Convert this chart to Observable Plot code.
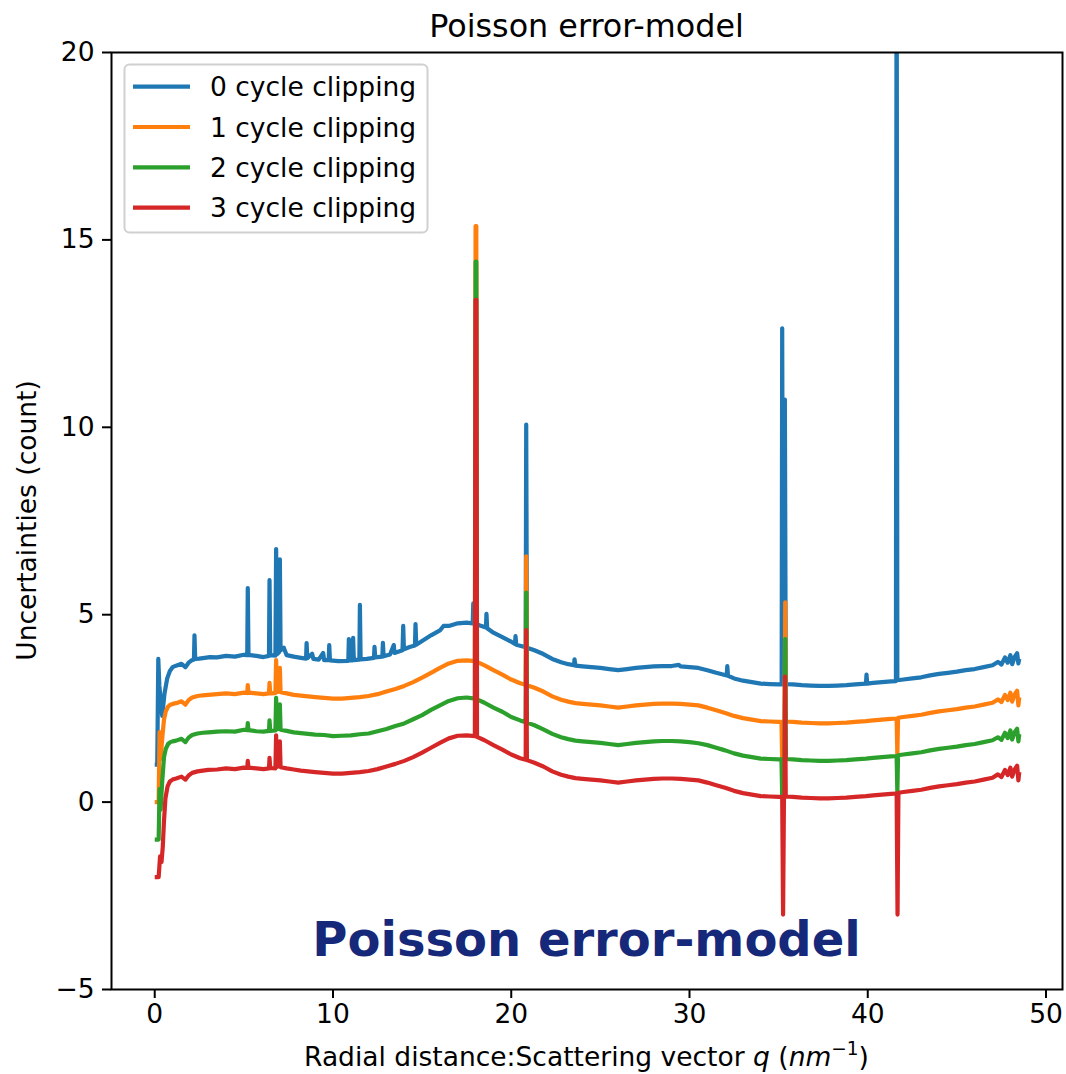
<!DOCTYPE html>
<html>
<head>
<meta charset="utf-8">
<script src="https://cdn.jsdelivr.net/npm/d3@7"></script>
<script src="https://cdn.jsdelivr.net/npm/@observablehq/plot@0.6"></script>
<style>
  html, body { margin: 0; padding: 0; background: #fff; }
  #chart { width: 1066px; height: 1074px; }
</style>
</head>
<body>
<div id="chart"></div>
<script>
const chartTitle = "Poisson error-model";
const watermark = "Poisson error-model";
const yLabel = "Uncertainties (count)";
const seriesNames = ["0 cycle clipping", "1 cycle clipping", "2 cycle clipping", "3 cycle clipping"];
const seriesColors = ["#1f77b4", "#ff7f0e", "#2ca02c", "#d62728"];
const xTicks = [0, 10, 20, 30, 40, 50];
const yTicks = [-5, 0, 5, 10, 15, 20];

// [q, uncertainty]
const clip0 = [[0,1.0],[0.14,1.0],[0.2,3.82],[0.26,3.1],[0.42,2.3],[0.55,2.9],[0.7,3.3],[0.85,3.5],[1.0,3.6],[1.2,3.64],[1.5,3.69],[1.72,3.6],[1.9,3.72],[2.1,3.79],[2.2,3.8],[2.23,4.45],[2.27,3.82],[2.5,3.83],[2.8,3.85],[3.1,3.87],[3.5,3.86],[4.0,3.9],[4.5,3.88],[5.0,3.93],[5.19,3.92],[5.22,5.71],[5.26,3.93],[5.7,3.9],[6.1,3.87],[6.41,3.9],[6.44,5.92],[6.48,3.92],[6.77,3.91],[6.81,6.75],[6.86,3.95],[6.98,4.0],[7.02,6.48],[7.06,4.05],[7.24,4.12],[7.4,3.92],[7.8,3.88],[8.2,3.85],[8.49,3.83],[8.52,4.24],[8.56,3.84],[8.83,3.96],[8.9,3.82],[9.2,3.8],[9.45,3.98],[9.5,3.79],[9.76,3.79],[9.79,4.19],[9.83,3.78],[10.3,3.76],[10.86,3.77],[10.89,4.35],[10.93,3.78],[11.1,3.78],[11.13,4.38],[11.17,3.79],[11.48,3.8],[11.51,5.26],[11.55,3.81],[11.9,3.82],[12.3,3.85],[12.33,4.14],[12.37,3.86],[12.77,3.88],[12.8,4.25],[12.84,3.89],[13.2,3.94],[13.41,4.19],[13.45,3.98],[13.9,4.05],[13.94,4.7],[13.98,4.08],[14.3,4.14],[14.6,4.18],[14.63,4.75],[14.67,4.2],[15.0,4.3],[15.5,4.45],[16.0,4.58],[16.2,4.7],[16.5,4.7],[17.0,4.77],[17.5,4.79],[17.84,4.77],[17.87,5.3],[17.92,4.78],[18.2,4.72],[18.58,4.66],[18.61,5.02],[18.65,4.64],[19.0,4.52],[19.5,4.4],[20.0,4.28],[20.21,4.22],[20.24,4.43],[20.28,4.2],[20.6,4.16],[20.81,4.13],[20.84,10.07],[20.88,4.12],[21.3,4.05],[21.8,3.95],[22.3,3.82],[22.8,3.73],[23.2,3.68],[23.52,3.65],[23.55,3.81],[23.6,3.64],[24.0,3.62],[24.5,3.6],[25.0,3.58],[25.5,3.55],[26.0,3.52],[26.5,3.55],[27.0,3.58],[27.5,3.6],[28.0,3.62],[28.5,3.63],[29.0,3.63],[29.4,3.66],[29.5,3.62],[30.0,3.6],[30.5,3.58],[31.0,3.52],[31.5,3.45],[32.09,3.38],[32.12,3.63],[32.16,3.37],[32.5,3.3],[33.0,3.24],[33.5,3.2],[34.0,3.16],[34.5,3.15],[35.0,3.14],[35.17,3.14],[35.2,12.64],[35.25,3.14],[35.31,3.15],[35.35,10.74],[35.4,3.15],[35.8,3.14],[36.3,3.12],[36.8,3.11],[37.3,3.1],[37.8,3.1],[38.3,3.11],[38.8,3.12],[39.3,3.14],[39.9,3.16],[39.93,3.4],[39.97,3.16],[40.3,3.18],[40.8,3.2],[41.3,3.22],[41.58,3.23],[41.62,25],[41.66,3.25],[42.0,3.27],[42.5,3.3],[43.0,3.33],[43.5,3.38],[44.0,3.42],[44.5,3.45],[45.0,3.48],[45.5,3.52],[46.0,3.55],[46.5,3.6],[47.0,3.65],[47.3,3.74],[47.5,3.67],[47.7,3.86],[47.85,3.72],[48.0,3.92],[48.1,3.68],[48.25,3.88],[48.38,3.97],[48.45,3.7],[48.5,3.82]];

const clip1 = [[0,0.0],[0.22,0.0],[0.27,1.87],[0.33,1.15],[0.42,1.7],[0.52,2.2],[0.62,2.42],[0.75,2.55],[0.88,2.6],[1.0,2.62],[1.2,2.64],[1.5,2.69],[1.72,2.6],[1.9,2.72],[2.1,2.79],[2.4,2.83],[2.7,2.85],[3.0,2.86],[3.5,2.88],[4.0,2.9],[4.5,2.88],[5.0,2.92],[5.19,2.91],[5.22,3.12],[5.26,2.92],[5.7,2.9],[6.1,2.88],[6.41,2.9],[6.44,3.18],[6.48,2.9],[6.77,2.91],[6.81,3.79],[6.86,2.94],[6.98,2.96],[7.02,3.58],[7.06,2.93],[7.4,2.9],[7.8,2.86],[8.2,2.84],[8.6,2.82],[9.0,2.8],[9.5,2.78],[10.0,2.76],[10.5,2.76],[11.0,2.78],[11.5,2.8],[12.0,2.83],[12.5,2.88],[13.0,2.95],[13.5,3.02],[14.0,3.1],[14.5,3.2],[15.0,3.32],[15.5,3.45],[16.0,3.58],[16.5,3.7],[17.0,3.77],[17.5,3.78],[17.96,3.76],[18.0,15.37],[18.04,15.37],[18.08,3.74],[18.5,3.65],[19.0,3.52],[19.5,3.4],[20.0,3.27],[20.5,3.17],[20.81,3.13],[20.84,6.56],[20.88,3.12],[21.3,3.05],[21.8,2.95],[22.3,2.82],[22.8,2.73],[23.2,2.68],[23.6,2.64],[24.0,2.62],[24.5,2.6],[25.0,2.58],[25.5,2.55],[26.0,2.52],[26.5,2.55],[27.0,2.58],[27.5,2.6],[28.0,2.62],[28.5,2.63],[29.0,2.63],[29.5,2.62],[30.0,2.6],[30.5,2.58],[31.0,2.52],[31.5,2.45],[32.0,2.38],[32.5,2.3],[33.0,2.24],[33.5,2.2],[34.0,2.16],[34.5,2.15],[35.0,2.14],[35.16,2.14],[35.2,1.15],[35.24,2.14],[35.33,2.15],[35.37,5.33],[35.41,2.15],[35.8,2.14],[36.3,2.12],[36.8,2.11],[37.3,2.1],[37.8,2.1],[38.3,2.11],[38.8,2.12],[39.3,2.14],[39.9,2.16],[40.3,2.18],[40.8,2.2],[41.3,2.22],[41.62,2.23],[41.66,1.25],[41.7,2.25],[42.0,2.27],[42.5,2.3],[43.0,2.33],[43.5,2.38],[44.0,2.42],[44.5,2.45],[45.0,2.48],[45.5,2.52],[46.0,2.55],[46.5,2.6],[47.0,2.65],[47.3,2.74],[47.5,2.67],[47.7,2.86],[47.85,2.72],[48.0,2.92],[48.1,2.68],[48.25,2.88],[48.38,2.97],[48.45,2.58],[48.5,2.8]];

const clip2 = [[0,-1.0],[0.22,-1.0],[0.27,0.35],[0.33,-0.2],[0.42,0.55],[0.52,1.2],[0.62,1.42],[0.75,1.55],[0.88,1.6],[1.0,1.62],[1.2,1.64],[1.5,1.69],[1.72,1.6],[1.9,1.72],[2.1,1.79],[2.4,1.83],[2.7,1.85],[3.0,1.86],[3.5,1.88],[4.0,1.89],[4.5,1.88],[5.0,1.93],[5.19,1.92],[5.22,2.11],[5.26,1.92],[5.7,1.89],[6.1,1.88],[6.41,1.9],[6.44,2.18],[6.48,1.9],[6.77,1.91],[6.81,2.78],[6.86,1.94],[6.98,1.96],[7.02,2.61],[7.06,1.93],[7.4,1.9],[7.8,1.86],[8.2,1.84],[8.6,1.82],[9.0,1.8],[9.5,1.79],[10.0,1.76],[10.5,1.77],[11.0,1.78],[11.5,1.81],[12.0,1.83],[12.5,1.89],[13.0,1.95],[13.5,2.03],[14.0,2.1],[14.5,2.21],[15.0,2.32],[15.5,2.46],[16.0,2.58],[16.5,2.7],[17.0,2.77],[17.5,2.79],[17.96,2.76],[18.0,14.42],[18.04,14.42],[18.08,2.74],[18.5,2.65],[19.0,2.52],[19.5,2.41],[20.0,2.27],[20.5,2.18],[20.81,2.13],[20.84,5.59],[20.88,2.12],[21.3,2.05],[21.8,1.94],[22.3,1.82],[22.8,1.73],[23.2,1.68],[23.6,1.64],[24.0,1.62],[24.5,1.6],[25.0,1.58],[25.5,1.55],[26.0,1.52],[26.5,1.55],[27.0,1.58],[27.5,1.6],[28.0,1.62],[28.5,1.63],[29.0,1.63],[29.5,1.62],[30.0,1.6],[30.5,1.57],[31.0,1.52],[31.5,1.45],[32.0,1.38],[32.5,1.3],[33.0,1.24],[33.5,1.2],[34.0,1.16],[34.5,1.15],[35.0,1.14],[35.16,1.14],[35.2,0.15],[35.24,1.14],[35.33,1.15],[35.37,4.35],[35.41,1.15],[35.8,1.14],[36.3,1.12],[36.8,1.11],[37.3,1.1],[37.8,1.1],[38.3,1.11],[38.8,1.12],[39.3,1.14],[39.9,1.16],[40.3,1.18],[40.8,1.2],[41.3,1.22],[41.62,1.23],[41.66,0.25],[41.7,1.25],[42.0,1.27],[42.5,1.3],[43.0,1.33],[43.5,1.38],[44.0,1.42],[44.5,1.45],[45.0,1.48],[45.5,1.52],[46.0,1.55],[46.5,1.6],[47.0,1.65],[47.3,1.73],[47.5,1.66],[47.7,1.85],[47.85,1.71],[48.0,1.91],[48.1,1.67],[48.25,1.87],[48.38,1.96],[48.45,1.62],[48.5,1.82]];

const clip3 = [[0,-2.0],[0.22,-2.0],[0.3,-1.45],[0.38,-1.6],[0.45,-1.2],[0.52,-0.5],[0.6,0.1],[0.72,0.42],[0.85,0.55],[1.0,0.6],[1.2,0.63],[1.5,0.68],[1.72,0.6],[1.9,0.71],[2.1,0.78],[2.4,0.82],[2.7,0.84],[3.0,0.86],[3.5,0.87],[4.0,0.9],[4.5,0.88],[5.0,0.92],[5.19,0.91],[5.22,1.1],[5.26,0.92],[5.7,0.9],[6.1,0.88],[6.41,0.9],[6.44,1.18],[6.48,0.91],[6.77,0.9],[6.81,1.78],[6.86,0.94],[6.98,0.96],[7.02,1.62],[7.06,0.93],[7.4,0.9],[7.8,0.87],[8.2,0.84],[8.6,0.82],[9.0,0.8],[9.5,0.78],[10.0,0.76],[10.5,0.76],[11.0,0.78],[11.5,0.8],[12.0,0.83],[12.5,0.88],[13.0,0.95],[13.5,1.02],[14.0,1.1],[14.5,1.2],[15.0,1.32],[15.5,1.45],[16.0,1.58],[16.5,1.7],[17.0,1.77],[17.5,1.78],[17.96,1.76],[18.0,13.4],[18.04,13.4],[18.08,1.74],[18.5,1.65],[19.0,1.52],[19.5,1.4],[20.0,1.27],[20.5,1.17],[20.81,1.13],[20.84,4.59],[20.88,1.12],[21.3,1.05],[21.8,0.95],[22.3,0.82],[22.8,0.73],[23.2,0.68],[23.6,0.64],[24.0,0.62],[24.5,0.6],[25.0,0.58],[25.5,0.55],[26.0,0.52],[26.5,0.55],[27.0,0.58],[27.5,0.6],[28.0,0.62],[28.5,0.63],[29.0,0.63],[29.5,0.62],[30.0,0.6],[30.5,0.58],[31.0,0.52],[31.5,0.45],[32.0,0.38],[32.5,0.3],[33.0,0.24],[33.5,0.2],[34.0,0.16],[34.5,0.15],[35.0,0.14],[35.2,0.14],[35.25,-3.0],[35.3,0.15],[35.33,0.15],[35.36,3.35],[35.4,0.15],[35.8,0.14],[36.3,0.12],[36.8,0.11],[37.3,0.1],[37.8,0.1],[38.3,0.11],[38.8,0.12],[39.3,0.14],[39.9,0.16],[40.3,0.18],[40.8,0.2],[41.3,0.22],[41.62,0.23],[41.67,-3.0],[41.72,0.25],[42.0,0.27],[42.5,0.3],[43.0,0.33],[43.5,0.38],[44.0,0.42],[44.5,0.45],[45.0,0.48],[45.5,0.52],[46.0,0.55],[46.5,0.6],[47.0,0.65],[47.3,0.74],[47.5,0.67],[47.7,0.86],[47.85,0.72],[48.0,0.92],[48.1,0.68],[48.25,0.88],[48.38,0.97],[48.45,0.58],[48.5,0.8]];

const seriesData = [clip0, clip1, clip2, clip3];

const W = 1066, H = 1074;
const mL = 111, mR = 4, mT = 52, mB = 85;
const FONT = "DejaVu Sans, Verdana, sans-serif";
const FS = 26.5;
const LW = 4.2;

const lineMarks = seriesData.map((s, i) => Plot.line(s, {
  x: d => d[0], y: d => d[1],
  stroke: seriesColors[i], strokeWidth: LW, clip: true,
  strokeLinejoin: "round", strokeLinecap: "butt"
}));

const chart = Plot.plot({
  width: W, height: H,
  marginLeft: mL, marginRight: mR, marginTop: mT, marginBottom: mB,
  style: { fontFamily: FONT, fontSize: FS + "px", background: "#fff", color: "#000", overflow: "visible" },
  x: { domain: [-2.425, 50.925], label: null },
  y: { domain: [-5, 20], label: null },
  marks: [
    ...lineMarks,
    Plot.frame({ stroke: "#000", strokeWidth: 2 }),
    Plot.axisX({ ticks: xTicks, tickSize: 9, tickPadding: 6, strokeWidth: 2, label: null, fontSize: FS }),
    Plot.axisY({ ticks: yTicks, tickSize: 9, tickPadding: 8, strokeWidth: 2, label: null, fontSize: FS })
  ]
});

document.getElementById("chart").appendChild(chart);

const svg = d3.select(chart);
const cx = mL + (W - mL - mR) / 2;

// title
svg.append("text")
  .attr("x", cx).attr("y", 37)
  .attr("text-anchor", "middle")
  .attr("font-family", FONT).attr("font-size", 31.8)
  .attr("fill", "#000")
  .text(chartTitle);

// x label
const xl = svg.append("text")
  .attr("x", cx).attr("y", 1066)
  .attr("text-anchor", "middle")
  .attr("font-family", FONT).attr("font-size", FS)
  .attr("fill", "#000");
xl.append("tspan").text("Radial distance:Scattering vector ");
xl.append("tspan").attr("font-style", "italic").text("q");
xl.append("tspan").text(" (");
xl.append("tspan").attr("font-style", "italic").text("nm");
xl.append("tspan").attr("dy", -11).attr("font-size", FS * 0.7).text("\u22121");
xl.append("tspan").attr("dy", 11).text(")");

// y label
svg.append("text")
  .attr("transform", `translate(35.5, ${mT + (H - mT - mB) / 2}) rotate(-90)`)
  .attr("text-anchor", "middle")
  .attr("font-family", FONT).attr("font-size", FS)
  .attr("fill", "#000")
  .text(yLabel);

// watermark
svg.append("text")
  .attr("x", cx).attr("y", H - mB - 33)
  .attr("text-anchor", "middle")
  .attr("font-family", FONT).attr("font-size", 48).attr("font-weight", "bold")
  .attr("fill", "#15287a")
  .text(watermark);

// legend
const lg = svg.append("g");
lg.append("rect")
  .attr("x", 124.5).attr("y", 64.5).attr("width", 303).attr("height", 168)
  .attr("rx", 5).attr("ry", 5)
  .attr("fill", "#fff").attr("fill-opacity", 0.8)
  .attr("stroke", "#d0d0d0").attr("stroke-width", 2);
seriesNames.forEach((name, i) => {
  const y = 86.7 + i * 40.3;
  lg.append("line")
    .attr("x1", 133).attr("x2", 190).attr("y1", y).attr("y2", y)
    .attr("stroke", seriesColors[i]).attr("stroke-width", LW);
  lg.append("text")
    .attr("x", 210).attr("y", y).attr("dy", "0.36em")
    .attr("text-anchor", "start")
    .attr("font-family", FONT).attr("font-size", FS)
    .attr("fill", "#000")
    .text(name);
});
</script>
</body>
</html>
